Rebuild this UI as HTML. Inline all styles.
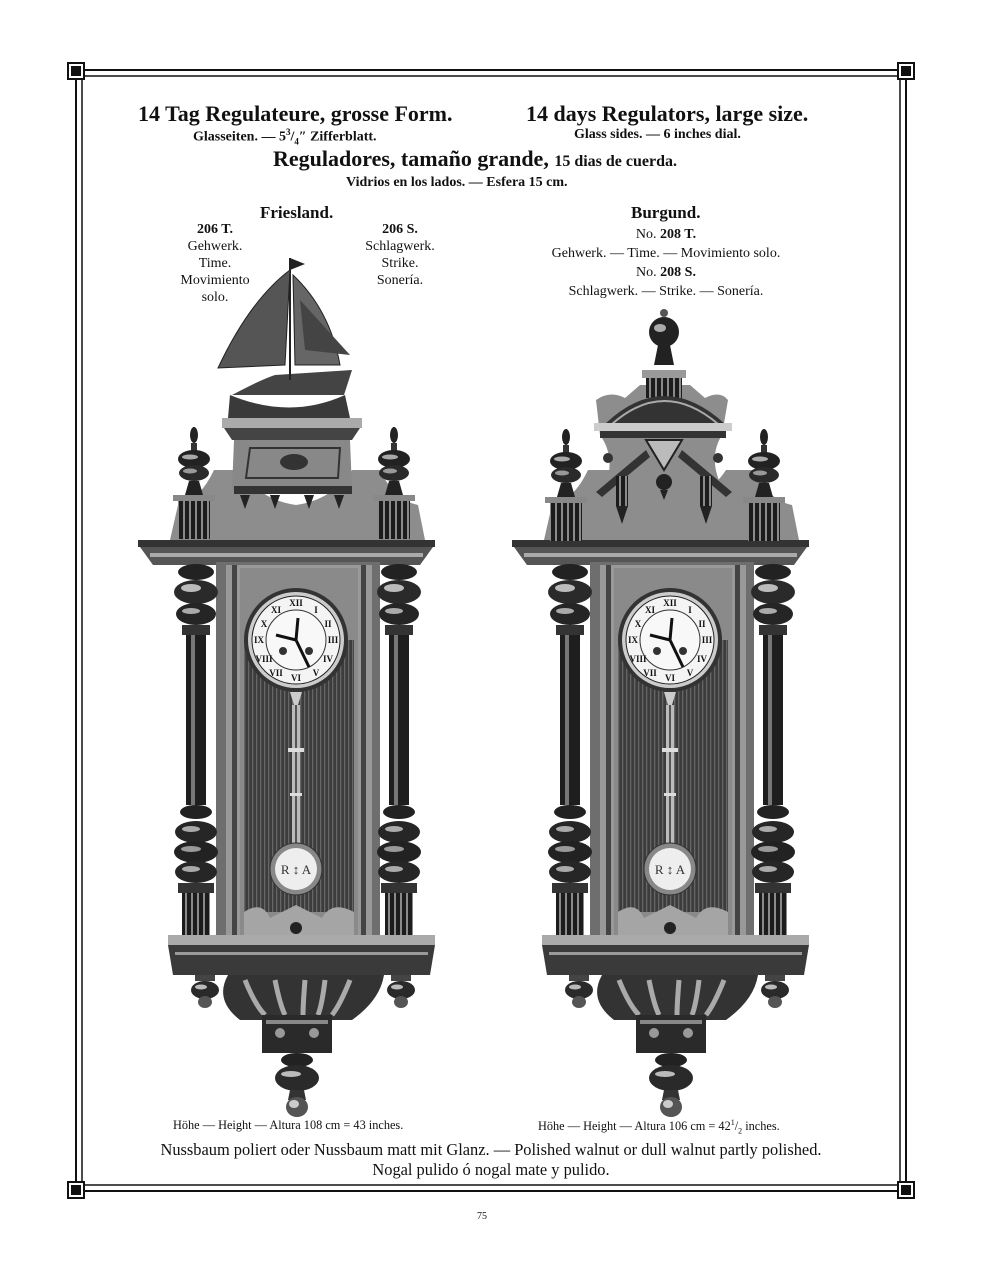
<!DOCTYPE html>
<html><head><meta charset="utf-8"><style>
html,body{margin:0;padding:0;background:#fff}
body{width:982px;height:1280px;position:relative;overflow:hidden;font-family:"Liberation Serif",serif;color:#111}
.t{position:absolute;white-space:nowrap}
.c{text-align:center}
b{font-weight:bold}
</style></head><body>
<svg width="982" height="1280" style="position:absolute;left:0;top:0">
<defs>
<pattern id="str" width="4" height="10" patternUnits="userSpaceOnUse"><rect width="4" height="10" fill="#3c3c3c"/><rect width="1.3" height="10" fill="#666"/></pattern>
<pattern id="flu" width="6" height="10" patternUnits="userSpaceOnUse"><rect width="6" height="10" fill="#1c1c1c"/><rect x="1" width="2" height="10" fill="#8a8a8a"/></pattern>
<g id="col">
 <ellipse cx="0" cy="572" rx="18" ry="8" fill="#222"/>
 <ellipse cx="0" cy="592" rx="22" ry="12" fill="#2a2a2a"/><ellipse cx="-5" cy="588" rx="10" ry="4" fill="#bbb"/>
 <ellipse cx="0" cy="614" rx="20" ry="11" fill="#252525"/><ellipse cx="-5" cy="611" rx="9" ry="3" fill="#aaa"/>
 <rect x="-14" y="625" width="28" height="10" fill="#333"/>
 <rect x="-10" y="635" width="20" height="170" fill="#1e1e1e"/><rect x="-5" y="635" width="4" height="170" fill="#777"/>
 <ellipse cx="0" cy="812" rx="16" ry="7" fill="#222"/>
 <ellipse cx="0" cy="832" rx="21" ry="11" fill="#262626"/><ellipse cx="-5" cy="829" rx="9" ry="3" fill="#aaa"/>
 <ellipse cx="0" cy="852" rx="22" ry="11" fill="#222"/><ellipse cx="-5" cy="849" rx="10" ry="3" fill="#999"/>
 <ellipse cx="0" cy="872" rx="21" ry="11" fill="#262626"/><ellipse cx="-5" cy="869" rx="9" ry="3" fill="#aaa"/>
 <rect x="-18" y="883" width="36" height="10" fill="#333"/>
 <rect x="-14" y="893" width="28" height="60" fill="url(#flu)"/>
</g>
<g id="fin">
 <ellipse cx="0" cy="-60" rx="4" ry="8" fill="#222"/>
 <rect x="-3" y="-52" width="6" height="8" fill="#333"/>
 <ellipse cx="0" cy="-36" rx="16" ry="9" fill="#222"/><ellipse cx="-4" cy="-38" rx="8" ry="2.5" fill="#aaa"/>
 <ellipse cx="0" cy="-22" rx="15" ry="8" fill="#2a2a2a"/><ellipse cx="-4" cy="-24" rx="7" ry="2.5" fill="#999"/>
 <path d="M-5 -14 L5 -14 L9 0 L-9 0Z" fill="#222"/>
 <rect x="-21" y="0" width="42" height="6" fill="#888"/>
 <rect x="-16" y="6" width="32" height="38" fill="url(#flu)"/>
</g>
<g id="body">
 <path d="M170 540 L178 505 Q200 500 214 470 L240 470 Q260 500 296 505 Q332 500 352 470 L380 470 Q394 500 418 505 L425 540Z" fill="#8d8d8d"/>
 <rect x="138" y="540" width="297" height="7" fill="#333"/>
 <path d="M140 547 L433 547 L420 565 L153 565Z" fill="#555"/>
 <rect x="150" y="553" width="273" height="4" fill="#aaa"/>
 <rect x="216" y="562" width="164" height="395" fill="#6e6e6e"/>
 <rect x="226" y="565" width="146" height="390" fill="#999"/>
 <rect x="232" y="565" width="5" height="390" fill="#444"/><rect x="361" y="565" width="5" height="390" fill="#444"/>
 <rect x="240" y="568" width="118" height="384" fill="#8a8a8a"/>
 <rect x="244" y="640" width="110" height="272" fill="url(#str)"/>
 <path d="M244 912 L354 912 L354 950 L244 950Z M244 912 Q262 900 270 918 L296 905 L322 918 Q332 900 354 912" fill="#a5a5a5"/>
 <circle cx="296" cy="928" r="6" fill="#222"/>
 <circle cx="296" cy="640" r="52" fill="#333"/><circle cx="296" cy="640" r="48" fill="#ccc"/>
 <circle cx="296" cy="640" r="44" fill="#f4f4f4" stroke="#222" stroke-width="1"/>
 <circle cx="296" cy="640" r="30" fill="#f8f8f8" stroke="#333" stroke-width="1"/>
 <g font-family="Liberation Serif" font-size="9" font-weight="bold" fill="#111" text-anchor="middle">
  <text x="296" y="606">XII</text><text x="333" y="643">III</text><text x="296" y="681">VI</text><text x="259" y="643">IX</text>
  <text x="316" y="613">I</text><text x="328" y="627">II</text><text x="328" y="662">IV</text><text x="316" y="676">V</text><text x="276" y="676">VII</text><text x="264" y="662">VIII</text><text x="264" y="627">X</text><text x="276" y="613">XI</text>
 </g>
 <path d="M296 640 L276 635 M296 640 L309 667 M296 640 L298 618" stroke="#111" stroke-width="3"/>
 <circle cx="283" cy="651" r="4" fill="#333"/><circle cx="309" cy="651" r="4" fill="#333"/>
 <path d="M290 692 L302 692 L298 705 L294 705Z" fill="#ccc"/>
 <rect x="292" y="705" width="8" height="140" fill="#bbb"/><rect x="295" y="705" width="2" height="140" fill="#555"/>
 <rect x="288" y="748" width="16" height="4" fill="#ddd"/><rect x="290" y="793" width="12" height="3" fill="#ddd"/>
 <circle cx="296" cy="869" r="26" fill="#888" stroke="#333"/><circle cx="296" cy="869" r="21" fill="#eee"/>
 <text x="296" y="874" font-size="13" text-anchor="middle" fill="#333" font-family="Liberation Serif">R ↕ A</text>
 <use href="#col" x="196"/><use href="#col" x="399"/>
 <rect x="168" y="935" width="267" height="10" fill="#aaa"/>
 <path d="M168 945 L435 945 L430 975 L173 975Z" fill="#3a3a3a"/>
 <rect x="175" y="952" width="253" height="3" fill="#999"/>
 <path d="M228 975 L384 975 Q380 1000 352 1020 L240 1020 Q214 1000 228 975Z" fill="#333"/>
 <path d="M245 980 Q255 1005 265 1015 M275 980 Q280 1005 285 1015 M305 980 Q303 1005 303 1015 M325 980 Q322 1005 318 1015 M350 980 Q340 1005 332 1015" stroke="#aaa" stroke-width="5" fill="none"/>
 <rect x="262" y="1015" width="70" height="38" fill="#2a2a2a"/><rect x="266" y="1020" width="62" height="4" fill="#888"/>
 <circle cx="280" cy="1033" r="5" fill="#999"/><circle cx="314" cy="1033" r="5" fill="#999"/>
 <ellipse cx="297" cy="1060" rx="16" ry="7" fill="#222"/>
 <ellipse cx="297" cy="1078" rx="22" ry="13" fill="#2a2a2a"/><ellipse cx="291" cy="1074" rx="10" ry="3" fill="#bbb"/>
 <path d="M290 1090 L304 1090 L306 1100 L288 1100Z" fill="#333"/>
 <ellipse cx="297" cy="1107" rx="11" ry="10" fill="#555"/><ellipse cx="294" cy="1104" rx="5" ry="4" fill="#ccc"/>
 <g id="drop"><rect x="195" y="975" width="20" height="6" fill="#444"/><ellipse cx="205" cy="990" rx="14" ry="9" fill="#2a2a2a"/><ellipse cx="201" cy="987" rx="6" ry="2.5" fill="#bbb"/><ellipse cx="205" cy="1002" rx="7" ry="6" fill="#555"/></g>
 <use href="#drop" x="196"/>
</g>
</defs>
<g fill="none" stroke="#111">
 <rect x="76" y="70" width="830" height="1121" stroke-width="2"/>
 <rect x="82" y="76" width="818" height="1109" stroke-width="1.5"/>
</g>
<g fill="#111">
 <rect x="67" y="62" width="18" height="18"/><rect x="897" y="62" width="18" height="18"/>
 <rect x="67" y="1181" width="18" height="18"/><rect x="897" y="1181" width="18" height="18"/>
</g>
<g fill="#fff"><rect x="69" y="64" width="14" height="14"/><rect x="899" y="64" width="14" height="14"/><rect x="69" y="1183" width="14" height="14"/><rect x="899" y="1183" width="14" height="14"/></g>
<g fill="#111"><rect x="71" y="66" width="10" height="10"/><rect x="901" y="66" width="10" height="10"/><rect x="71" y="1185" width="10" height="10"/><rect x="901" y="1185" width="10" height="10"/></g>
<use href="#body"/>
<use href="#body" x="374"/>
<rect x="222" y="418" width="140" height="10" fill="#aaa"/>
<path d="M224 428 L360 428 L352 440 L232 440Z" fill="#444"/>
<path d="M234 440 L350 440 L352 490 L232 490Z" fill="#888"/>
<path d="M250 448 L340 448 L338 478 L246 478Z" fill="none" stroke="#333" stroke-width="2"/>
<ellipse cx="294" cy="462" rx="14" ry="8" fill="#333"/>
<rect x="234" y="486" width="118" height="8" fill="#333"/>
<g fill="#222"><path d="M240 495 l10 0 l-5 14z"/><path d="M270 495 l10 0 l-5 14z"/><path d="M304 495 l10 0 l-5 14z"/><path d="M334 495 l10 0 l-5 14z"/></g>
<use href="#fin" x="194" y="495"/><use href="#fin" x="394" y="495"/>
<path d="M230 395 Q290 420 345 395 L350 418 L228 418Z" fill="#3a3a3a"/>
<path d="M232 395 Q260 380 275 375 L352 370 L344 395Z" fill="#444"/>
<path d="M290 258 L290 380" stroke="#222" stroke-width="2"/>
<path d="M290 270 Q250 300 218 368 L285 365Z" fill="#555" stroke="#222"/>
<path d="M293 275 Q330 310 340 365 L295 365Z" fill="#666" stroke="#222"/>
<path d="M300 300 L350 355 L305 350Z" fill="#444"/>
<path d="M290 258 l15 6 l-15 6z" fill="#222"/>
<g>
 <path d="M596 400 Q610 390 625 398 L640 385 L690 385 L705 398 Q720 390 728 400 L722 435 Q700 470 745 520 L585 520 Q625 470 600 435Z" fill="#8d8d8d"/>
 <rect x="642" y="370" width="44" height="8" fill="#999"/><rect x="646" y="378" width="36" height="20" fill="url(#flu)"/>
 <path d="M605 424 Q664 368 725 424Z" fill="#333"/><path d="M612 424 Q664 378 718 424" fill="none" stroke="#aaa" stroke-width="2"/>
 <rect x="594" y="423" width="138" height="8" fill="#ccc"/><rect x="600" y="431" width="126" height="7" fill="#333"/>
 <path d="M646 440 L682 440 L664 470Z" fill="#bbb" stroke="#222" stroke-width="2"/>
 <path d="M596 492 L646 450 L650 457 L602 497Z M732 492 L682 450 L678 457 L726 497Z" fill="#333"/>
 <ellipse cx="664" cy="482" rx="8" ry="8" fill="#222"/><path d="M660 490 l8 0 l-4 10z" fill="#222"/>
 <rect x="616" y="476" width="12" height="30" fill="url(#flu)"/><rect x="700" y="476" width="12" height="30" fill="url(#flu)"/>
 <path d="M616 506 l12 0 l-6 18z M700 506 l12 0 l-6 18z" fill="#222"/>
 <circle cx="608" cy="458" r="5" fill="#333"/><circle cx="718" cy="458" r="5" fill="#333"/>
 <circle cx="664" cy="313" r="4" fill="#555"/>
 <ellipse cx="664" cy="332" rx="15" ry="15" fill="#222"/><ellipse cx="660" cy="328" rx="6" ry="4" fill="#aaa"/>
 <path d="M658 345 L670 345 L674 365 L654 365Z" fill="#222"/>
</g>
<use href="#fin" x="566" y="497"/><use href="#fin" x="764" y="497"/>
</svg>

<div class="t" style="left:138px;top:101px;font-size:22px;font-weight:bold">14 Tag Regulateure, grosse Form.</div>
<div class="t" style="left:193px;top:127px;font-size:14px;font-weight:bold">Glasseiten. — 5<sup style="font-size:9px">3</sup>/<sub style="font-size:9px">4</sub>″ Zifferblatt.</div>
<div class="t" style="left:526px;top:101px;font-size:22px;font-weight:bold">14 days Regulators, large size.</div>
<div class="t" style="left:574px;top:127px;font-size:14px;font-weight:bold">Glass sides. — 6 inches dial.</div>
<div class="t" style="left:273px;top:146px;font-size:22px;font-weight:bold">Reguladores, tamaño grande, <span style="font-size:16px">15 dias de cuerda.</span></div>
<div class="t" style="left:346px;top:175px;font-size:14px;font-weight:bold">Vidrios en los lados. — Esfera 15 cm.</div>

<div class="t" style="left:260px;top:203px;font-size:17px;font-weight:bold">Friesland.</div>
<div class="t c" style="left:160px;top:221px;width:110px;font-size:14px;line-height:17px"><b>206 T.</b><br>Gehwerk.<br>Time.<br>Movimiento<br>solo.</div>
<div class="t c" style="left:345px;top:221px;width:110px;font-size:14px;line-height:17px"><b>206 S.</b><br>Schlagwerk.<br>Strike.<br>Sonería.</div>

<div class="t" style="left:631px;top:203px;font-size:17px;font-weight:bold">Burgund.</div>
<div class="t c" style="left:516px;top:225px;width:300px;font-size:14px;line-height:19px">No. <b>208 T.</b><br>Gehwerk. — Time. — Movimiento solo.<br>No. <b>208 S.</b><br>Schlagwerk. — Strike. — Sonería.</div>

<div class="t" style="left:173px;top:1118px;font-size:12.3px">Höhe — Height — Altura 108 cm = 43 inches.</div>
<div class="t" style="left:538px;top:1118px;font-size:12.3px">Höhe — Height — Altura 106 cm = 42<sup style="font-size:8px">1</sup>/<sub style="font-size:8px">2</sub> inches.</div>
<div class="t c" style="left:91px;top:1140px;width:800px;font-size:16.4px;line-height:20px">Nussbaum poliert oder Nussbaum matt mit Glanz. — Polished walnut or dull walnut partly polished.<br>Nogal pulido ó nogal mate y pulido.</div>
<div class="t" style="left:477px;top:1211px;font-size:10px">75</div>
</body></html>
